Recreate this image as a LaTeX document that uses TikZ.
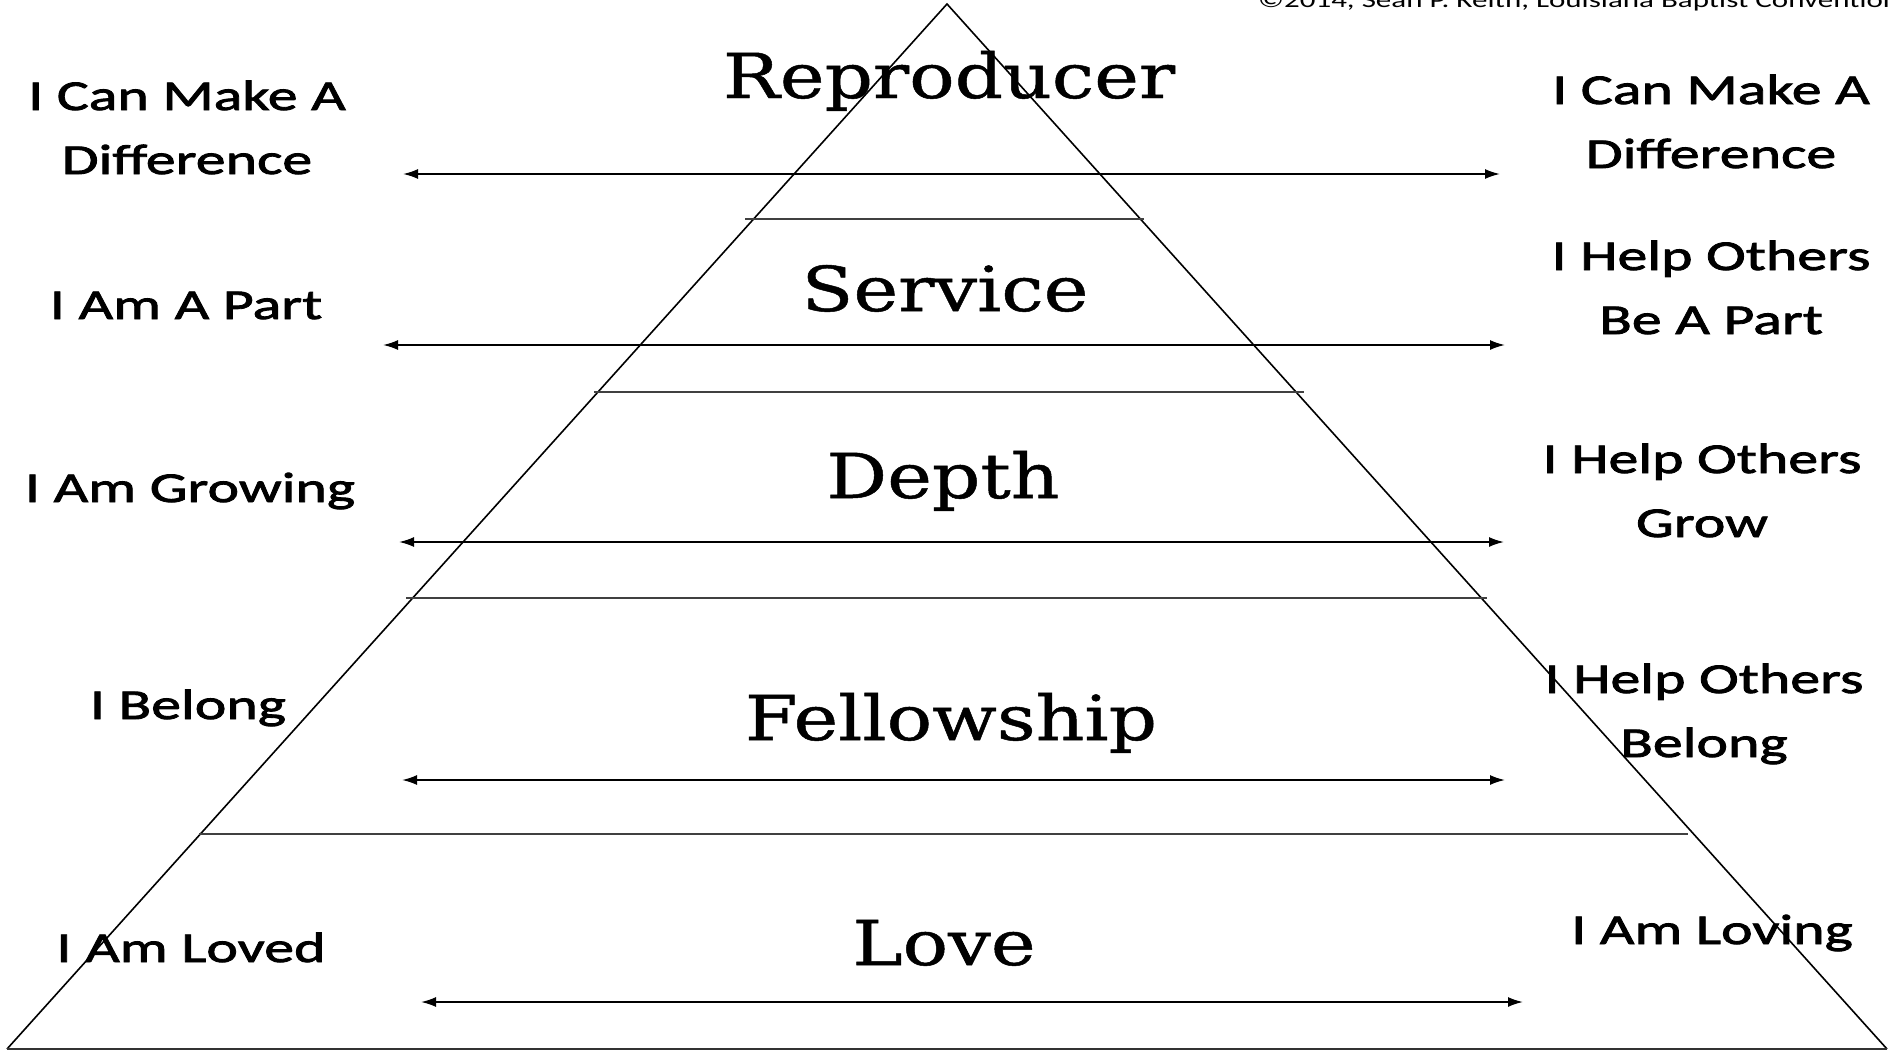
\documentclass[tikz,border=0pt]{standalone}
\usepackage{fontspec}
\usetikzlibrary{arrows.meta}
\newfontfamily\sidefont[FakeStretch=1.41,FakeBold=2]{Carlito}
\newfontfamily\copyfont[FakeStretch=1.41]{Carlito}
\newfontfamily\titlefont[FakeStretch=1.22,FakeBold=0.8]{DejaVu Serif}
\begin{document}
\begin{tikzpicture}[x=1pt,y=-1pt,
  side/.style={font=\sidefont\fontsize{42.5}{64}\selectfont, align=center, inner sep=0pt, anchor=base},
  tier/.style={font=\titlefont\fontsize{62}{70}\selectfont, inner sep=0pt, anchor=base},
  copy/.style={font=\copyfont\fontsize{22}{26}\selectfont, inner sep=0pt, anchor=base west},
  edgeline/.style={line width=1.6pt, black},
  sepline/.style={line width=1.5pt, black!75},
  dbl/.style={line width=1.8pt, {Latex[length=15pt,width=10pt]}-{Latex[length=15pt,width=10pt]}}
]
\useasboundingbox (0,0) rectangle (1888,1052);
\clip (0,0) rectangle (1888,1052);

% triangle
\coordinate (apex) at (947,4);
\coordinate (bl) at (7,1049);
\coordinate (br) at (1887,1049);
\draw[edgeline] (bl) -- (apex) -- (br);
\draw[edgeline, line width=2.2pt, black!80] (bl) -- (br);

% separators
\coordinate (s1l) at (745,219);  \coordinate (s1r) at (1144,219);
\coordinate (s2l) at (594,392);  \coordinate (s2r) at (1304,392);
\coordinate (s3l) at (406,598);  \coordinate (s3r) at (1487,598);
\coordinate (s4l) at (199,834);  \coordinate (s4r) at (1688,834);
\draw[sepline] (s1l) -- (s1r);
\draw[sepline] (s2l) -- (s2r);
\draw[sepline] (s3l) -- (s3r);
\draw[sepline] (s4l) -- (s4r);

% double arrows
\coordinate (a1l) at (403,174);  \coordinate (a1r) at (1500,174);
\coordinate (a2l) at (383,345);  \coordinate (a2r) at (1505,345);
\coordinate (a3l) at (399,542);  \coordinate (a3r) at (1504,542);
\coordinate (a4l) at (402,780);  \coordinate (a4r) at (1505,780);
\coordinate (a5l) at (421,1002); \coordinate (a5r) at (1523,1002);
\draw[dbl] (a1l) -- (a1r);
\draw[dbl] (a2l) -- (a2r);
\draw[dbl] (a3l) -- (a3r);
\draw[dbl] (a4l) -- (a4r);
\draw[dbl] (a5l) -- (a5r);

% tier titles
\node[tier] (t1) at (949,98) {Reproducer};
\node[tier] (t2) at (945,311) {Service};
\node[tier] (t3) at (943,498) {Depth};
\node[tier] (t4) at (951,740) {Fellowship};
\node[tier] (t5) at (944,965) {Love};

% left labels (base = baseline of last line)
\node[side] (l1) at (187,174) {I Can Make A\\Difference};
\node[side] (l2) at (186,319) {I Am A Part};
\node[side] (l3) at (190,502) {I Am Growing};
\node[side] (l4) at (188,719) {I Belong};
\node[side] (l5) at (191,962) {I Am Loved};

% right labels
\node[side] (r1) at (1711,168) {I Can Make A\\Difference};
\node[side] (r2) at (1711,334) {I Help Others\\Be A Part};
\node[side] (r3) at (1702,537) {I Help Others\\Grow};
\node[side] (r4) at (1704,757) {I Help Others\\Belong};
\node[side] (r5) at (1712,944) {I Am Loving};

% copyright
\node[copy] (cr) at (1258,8) {©2014, Sean P. Keith, Louisiana Baptist Convention};
\end{tikzpicture}
\end{document}
